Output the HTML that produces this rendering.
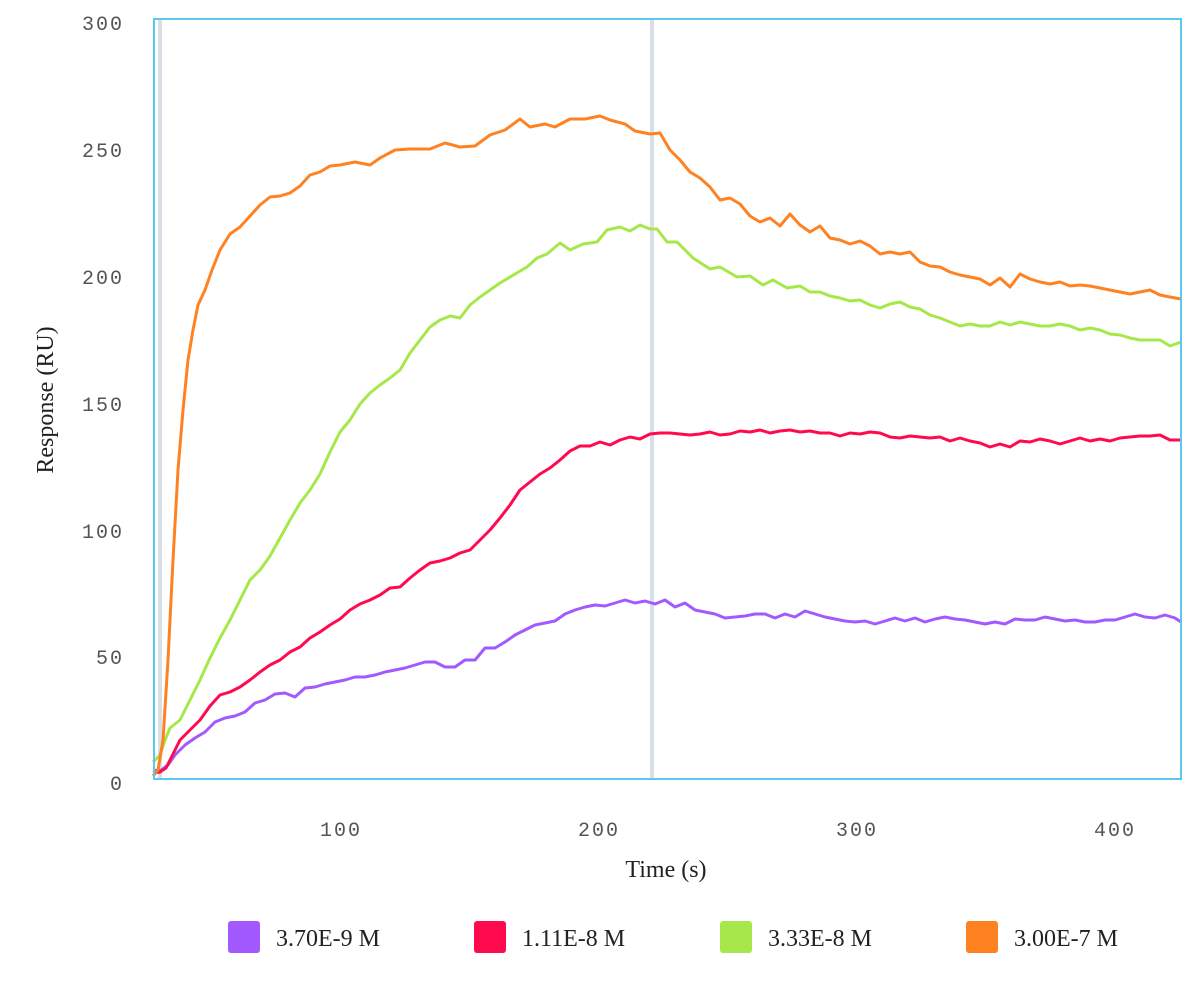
<!DOCTYPE html>
<html><head><style>body{margin:0;background:#fff}svg{display:block}</style></head><body>
<svg width="1200" height="1000" xmlns="http://www.w3.org/2000/svg">
<rect width="1200" height="1000" fill="#fff"/>
<line x1="160" y1="20" x2="160" y2="779" stroke="#d9dfe6" stroke-width="4"/>
<line x1="652" y1="20" x2="652" y2="779" stroke="#d9dfe6" stroke-width="4"/>
<g font-family="Liberation Mono, monospace" font-size="20" fill="#555" text-anchor="end" letter-spacing="2">
<text x="124" y="30">300</text><text x="124" y="157">250</text><text x="124" y="284">200</text><text x="124" y="411">150</text><text x="124" y="538">100</text><text x="124" y="664">50</text><text x="124" y="790">0</text>
</g>
<g font-family="Liberation Mono, monospace" font-size="20" fill="#555" text-anchor="middle" letter-spacing="2">
<text x="341" y="836">100</text><text x="599" y="836">200</text><text x="857" y="836">300</text><text x="1115" y="836">400</text>
</g>
<text x="666" y="877" font-family="Liberation Serif, serif" font-size="24" fill="#222" text-anchor="middle">Time (s)</text>
<text transform="translate(53,400) rotate(-90)" font-family="Liberation Serif, serif" font-size="24" fill="#222" text-anchor="middle">Response (RU)</text>
<g fill="none" stroke-width="3" stroke-linejoin="round">
<polyline stroke="#a259ff" points="153,770 160,771 168,765 175,755 185,745 195,738 205,732 215,722 225,718 235,716 245,712 255,703 265,700 275,694 285,693 295,697 305,688 315,687 325,684 335,682 345,680 355,677 365,677 375,675 385,672 395,670 405,668 415,665 425,662 435,662 445,667 455,667 465,660 475,660 485,648 495,648 505,642 515,635 525,630 535,625 545,623 555,621 565,614 575,610 585,607 595,605 605,606 615,603 625,600 635,603 645,601 655,604 665,600 675,607 685,603 695,610 705,612 715,614 725,618 735,617 745,616 755,614 765,614 775,618 785,614 795,617 805,611 815,614 825,617 835,619 845,621 855,622 865,621 875,624 885,621 895,618 905,621 915,618 925,622 935,619 945,617 955,619 965,620 975,622 985,624 995,622 1005,624 1015,619 1025,620 1035,620 1045,617 1055,619 1065,621 1075,620 1085,622 1095,622 1105,620 1115,620 1125,617 1135,614 1145,617 1155,618 1165,615 1175,618 1181,622"/>
<polyline stroke="#ff0a4f" points="153,773 160,772 166,768 170,760 180,740 190,730 200,720 210,706 220,695 230,692 240,687 250,680 260,672 270,665 280,660 290,652 300,647 310,638 320,632 330,625 340,619 350,610 360,604 370,600 380,595 390,588 400,587 410,578 420,570 430,563 440,561 450,558 460,553 470,550 480,540 490,530 500,518 510,505 520,490 530,482 540,474 550,468 560,460 570,451 580,446 590,446 600,442 610,445 620,440 630,437 640,439 650,434 660,433 670,433 680,434 690,435 700,434 710,432 720,435 730,434 740,431 750,432 760,430 770,433 780,431 790,430 800,432 810,431 820,433 830,433 840,436 850,433 860,434 870,432 880,433 890,437 900,438 910,436 920,437 930,438 940,437 950,441 960,438 970,441 980,443 990,447 1000,444 1010,447 1020,441 1030,442 1040,439 1050,441 1060,444 1070,441 1080,438 1090,441 1100,439 1110,441 1120,438 1130,437 1140,436 1150,436 1160,435 1170,440 1181,440"/>
<polyline stroke="#a6e84a" points="153,762 160,755 165,740 170,728 180,720 190,700 200,680 210,658 220,638 230,620 240,600 250,580 260,570 270,556 280,538 290,520 300,503 310,490 320,474 330,452 340,432 350,420 360,404 370,393 380,385 390,378 400,370 410,353 420,340 430,327 440,320 450,316 460,318 470,305 480,297 490,290 500,283 510,277 527,267 537,258 547,254 560,243 570,250 583,244 597,242 607,230 620,227 630,231 640,225 650,229 657,229 667,242 677,242 693,258 710,269 720,267 737,277 750,276 763,285 773,280 787,288 800,286 810,292 820,292 830,296 840,298 850,301 860,300 870,305 880,308 890,304 900,302 910,307 920,309 930,315 940,318 950,322 960,326 970,324 980,326 990,326 1000,322 1010,325 1020,322 1030,324 1040,326 1050,326 1060,324 1070,326 1080,330 1090,328 1100,330 1110,334 1120,335 1130,338 1140,340 1150,340 1160,340 1170,346 1181,342"/>
<polyline stroke="#ff8222" points="153,776 158,770 163,740 168,660 173,560 178,470 183,410 188,360 193,330 198,305 205,290 212,270 220,250 230,234 240,227 250,216 260,205 270,197 280,196 290,193 300,186 310,175 320,172 330,166 340,165 355,162 370,165 380,158 395,150 410,149 430,149 445,143 460,147 475,146 490,135 505,130 520,119 530,127 545,124 555,127 570,119 585,119 600,116 610,120 625,124 635,131 650,134 660,133 670,150 680,160 690,172 700,178 710,187 720,200 730,198 740,204 750,216 760,222 770,218 780,226 790,214 800,225 810,232 820,226 830,238 840,240 850,244 860,241 870,246 880,254 890,252 900,254 910,252 920,262 930,266 940,267 950,272 960,275 970,277 980,279 990,285 1000,278 1010,287 1020,274 1030,279 1040,282 1050,284 1060,282 1070,286 1080,285 1090,286 1100,288 1110,290 1120,292 1130,294 1140,292 1150,290 1160,295 1170,297 1181,299"/>
</g>
<rect x="154" y="19" width="1027" height="760" fill="none" stroke="#5bc8f0" stroke-width="2"/>
<g font-family="Liberation Serif, serif" font-size="24" fill="#222">
<rect x="228" y="921" width="32" height="32" rx="3" fill="#a259ff"/><text x="276" y="946">3.70E-9 M</text>
<rect x="474" y="921" width="32" height="32" rx="3" fill="#ff0a4f"/><text x="522" y="946">1.11E-8 M</text>
<rect x="720" y="921" width="32" height="32" rx="3" fill="#a6e84a"/><text x="768" y="946">3.33E-8 M</text>
<rect x="966" y="921" width="32" height="32" rx="3" fill="#ff8222"/><text x="1014" y="946">3.00E-7 M</text>
</g>
</svg>
</body></html>
